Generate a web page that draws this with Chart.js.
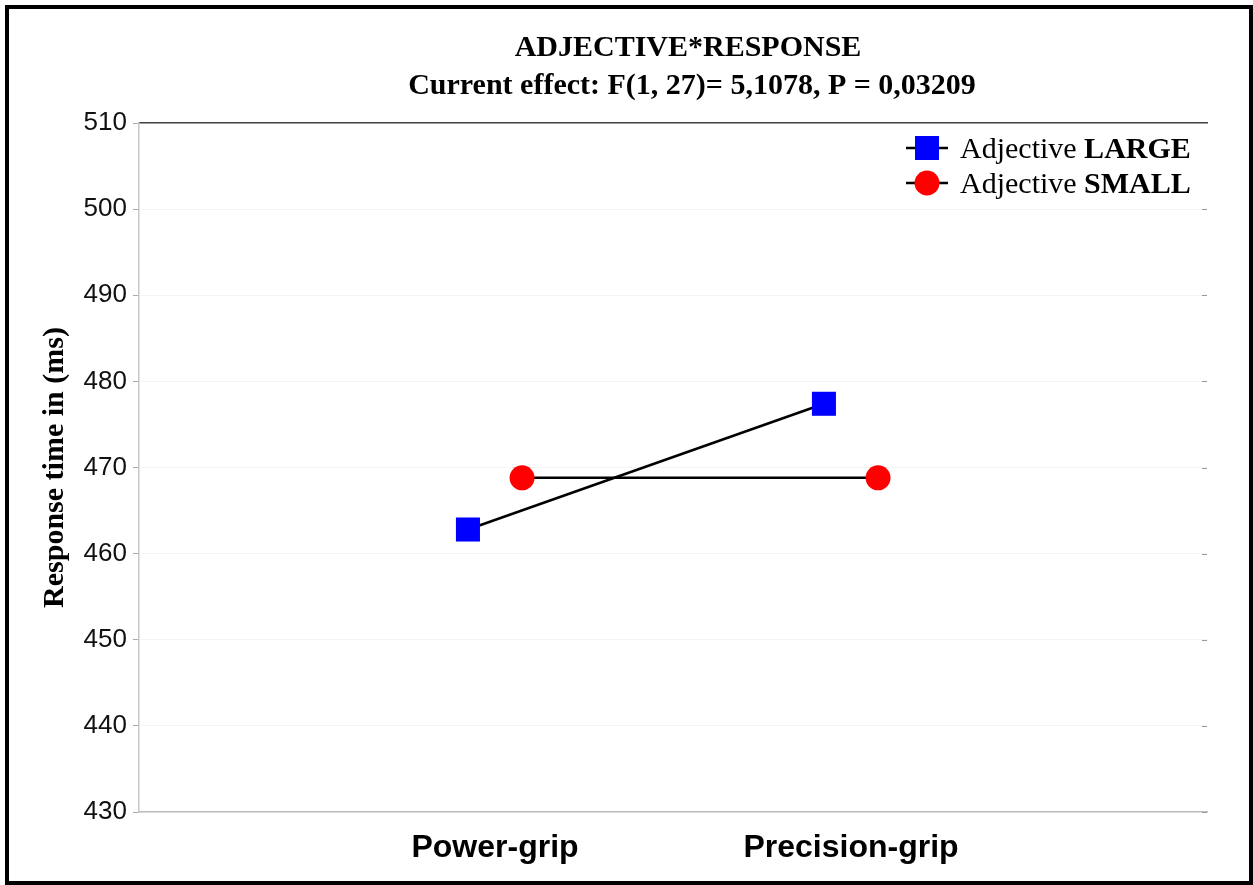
<!DOCTYPE html>
<html>
<head>
<meta charset="utf-8">
<title>ADJECTIVE*RESPONSE</title>
<script src="https://cdn.jsdelivr.net/npm/chart.js@4.4.1/dist/chart.umd.min.js"></script>
<style>
  html, body { margin: 0; padding: 0; background: #fff; }
  #wrap { width: 1253px; height: 885px; }
</style>
</head>
<body>
<div id="wrap"><canvas id="effectCanvas" width="1253" height="885"></canvas></div>
<script>
// values
const categories = ['Power-grip', 'Precision-grip'];
const largeValues = [462.8, 477.4];
const smallValues = [468.8, 468.8];
const yMin = 430;
const yMax = 510;
const yStep = 10;
const titleLines = ['ADJECTIVE*RESPONSE', 'Current effect: F(1, 27)= 5,1078, P = 0,03209'];
const legendNames = [['Adjective ', 'LARGE'], ['Adjective ', 'SMALL']];

const dodge = 0.076;

function toPoints(values, shift) {
    return values.map((v, i) => ({ x: i + 1 + shift, y: v }));
}

const serif = '"Liberation Serif", "Times New Roman", serif';
const sans = '"Liberation Sans", Arial, sans-serif';

const framePlugin = {
    id: 'frame',
    afterDraw(chart) {
        const ctx = chart.ctx;
        const area = chart.chartArea;
        const y = chart.scales.y;
        ctx.save();

        // small ticks on the right edge
        ctx.strokeStyle = '#999';
        ctx.lineWidth = 1;
        for (let v = yMin; v <= yMax; v += yStep) {
            const py = Math.round(y.getPixelForValue(v)) + 0.5;
            ctx.beginPath();
            ctx.moveTo(area.right - 5, py);
            ctx.lineTo(area.right, py);
            ctx.stroke();
        }

        // title
        ctx.fillStyle = '#000';
        ctx.textAlign = 'center';
        ctx.textBaseline = 'alphabetic';
        ctx.font = 'bold 30px ' + serif;
        ctx.fillText(titleLines[0], 688, 56);
        ctx.fillText(titleLines[1], 692, 94);

        // legend
        const rows = [148, 183];
        chart.data.datasets.forEach((ds, i) => {
            const cy = rows[i];
            ctx.strokeStyle = '#000';
            ctx.lineWidth = 2.5;
            ctx.beginPath();
            ctx.moveTo(906, cy);
            ctx.lineTo(948, cy);
            ctx.stroke();
            ctx.fillStyle = ds.pointBackgroundColor;
            if (ds.pointStyle === 'rect') {
                ctx.fillRect(927 - 12, cy - 12, 24, 24);
            } else {
                ctx.beginPath();
                ctx.arc(927, cy, 12.5, 0, Math.PI * 2);
                ctx.fill();
            }
            ctx.fillStyle = '#000';
            ctx.textAlign = 'left';
            ctx.font = '30px ' + serif;
            ctx.fillText(legendNames[i][0], 960, cy + 10);
            const w = ctx.measureText(legendNames[i][0]).width;
            ctx.font = 'bold 30px ' + serif;
            ctx.fillText(legendNames[i][1], 960 + w, cy + 10);
        });

        // outer frame
        ctx.strokeStyle = '#000';
        ctx.lineWidth = 4;
        ctx.strokeRect(7, 7, 1244, 876);
        ctx.restore();
    }
};

const ctx = document.getElementById('effectCanvas').getContext('2d');
const effectChart = new Chart(ctx, {
    type: 'line',
    data: {
        datasets: [
            {
                label: 'Adjective LARGE',
                data: toPoints(largeValues, -dodge),
                borderColor: '#000',
                borderWidth: 2.5,
                pointStyle: 'rect',
                pointRadius: 17,
                pointBackgroundColor: '#0000ff',
                pointBorderWidth: 0,
                pointHoverRadius: 17
            },
            {
                label: 'Adjective SMALL',
                data: toPoints(smallValues, dodge),
                borderColor: '#000',
                borderWidth: 2.5,
                pointStyle: 'circle',
                pointRadius: 12.5,
                pointBackgroundColor: '#ff0000',
                pointBorderWidth: 0,
                pointHoverRadius: 12.5
            }
        ]
    },
    options: {
        responsive: false,
        animation: false,
        layout: {
            padding: { left: 10, top: 123, right: 46, bottom: 0 }
        },
        plugins: {
            legend: { display: false },
            title: { display: false },
            tooltip: { enabled: false }
        },
        scales: {
            x: {
                type: 'linear',
                min: 0,
                max: 3,
                afterBuildTicks: function(scale) {
                    scale.ticks = categories.map((c, i) => ({ value: i + 1 }));
                },
                afterFit: function(scale) {
                    scale.height = 73;
                },
                grid: { display: false },
                border: { color: '#bdbdbd', width: 1.5 },
                ticks: {
                    padding: 9,
                    color: '#000',
                    font: { family: sans, size: 32, weight: 'bold' },
                    callback: function(value) {
                        return categories[value - 1];
                    }
                }
            },
            xTop: {
                type: 'linear',
                position: 'top',
                min: 0,
                max: 3,
                afterFit: function(scale) {
                    scale.height = 0;
                },
                grid: { display: false },
                ticks: { display: false },
                border: { color: '#444', width: 1.5 }
            },
            y: {
                min: yMin,
                max: yMax,
                afterFit: function(scale) {
                    scale.width = 129;
                },
                grid: {
                    color: 'rgba(0,0,0,0.045)',
                    tickColor: '#aaa',
                    tickLength: 6
                },
                border: { color: '#c8c8c8', width: 1.5 },
                ticks: {
                    stepSize: yStep,
                    padding: 6,
                    color: '#111',
                    font: { family: sans, size: 26 }
                },
                title: {
                    display: true,
                    text: 'Response time in (ms)',
                    color: '#000',
                    font: { family: serif, size: 30, weight: 'bold' },
                    padding: { top: 27, bottom: 0 }
                }
            }
        }
    },
    plugins: [framePlugin]
});
</script>
</body>
</html>
